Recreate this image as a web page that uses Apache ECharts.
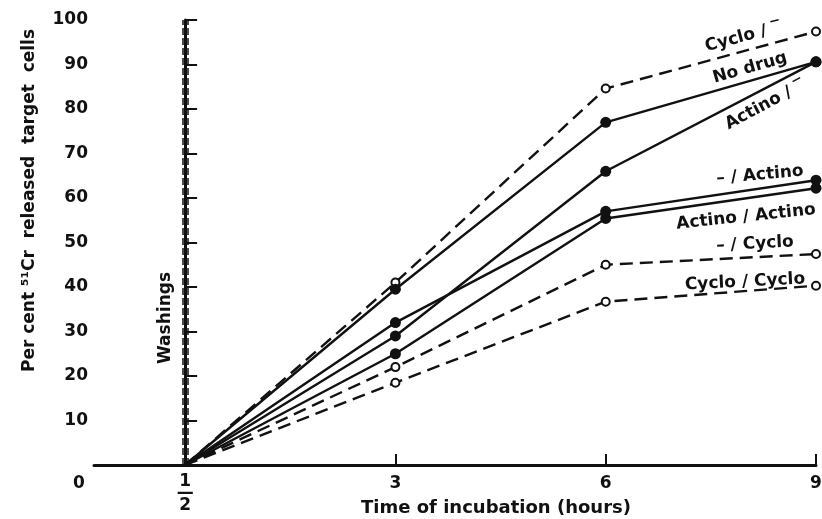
<!DOCTYPE html>
<html>
<head>
<meta charset="utf-8">
<script src="https://cdn.jsdelivr.net/npm/echarts@6/dist/echarts.min.js"></script>
<style>
  html, body { margin: 0; padding: 0; background: #fff; }
  #chart { width: 822px; height: 519px; }
</style>
</head>
<body>
<div id="chart"></div>
<script>
// ---- data ----
const hours = [0.5, 3, 6, 9]
const tickHours = [0, 0.5, 3, 6, 9]
const tickLabels = ['0', '1/2', '3', '6', '9']

const cycloNone = [0, 41, 84.6, 97.4]
const noDrug = [0, 39.5, 77, 90.6]
const actinoNone = [0, 29, 66, 90.6]
const noneActino = [0, 32, 57, 64]
const actinoActino = [0, 25, 55.4, 62.2]
const noneCyclo = [0, 22, 45, 47.4]
const cycloCyclo = [0, 18.5, 36.7, 40.3]

const washTime = 0.5

// the printed x axis is broken: 0 -> 1/2 is squeezed, 1/2 -> 3 is drawn as wide as 3 -> 6
function pos(t) {
  if (t <= 0.5) return -1.3 + t * 2.6
  if (t <= 3) return (t - 0.5) * 1.2
  return t
}

const font = 'DejaVu Sans'
const ink = '#111'

function lineSeries(name, values, dashed) {
  return {
    name: name,
    type: 'line',
    clip: false,
    symbol: 'circle',
    symbolSize: dashed ? 8 : 11,
    itemStyle: dashed
      ? { color: '#fff', borderColor: ink, borderWidth: 2 }
      : { color: ink, borderColor: ink, borderWidth: 0 },
    lineStyle: { color: ink, width: 2.4, type: dashed ? [13, 7] : 'solid' },
    emphasis: { disabled: true },
    z: dashed ? 3 : 4,
    data: values.map((v, i) => i === 0
      ? { value: [pos(hours[i]), v], symbol: 'none' }
      : [pos(hours[i]), v])
  }
}

function annot(text, x, y, deg) {
  return {
    type: 'text', x: x, y: y, rotation: deg * Math.PI / 180, z: 10,
    style: {
      text: text, fill: ink, font: 'bold 17px "' + font + '"',
      align: 'center', verticalAlign: 'middle'
    }
  }
}

let myChart = echarts.init(document.getElementById('chart'))
let option = {
  animation: false,
  backgroundColor: '#fff',
  grid: { left: 94, right: 6, top: 20, bottom: 54, containLabel: false, outerBoundsMode: 'none' },
  xAxis: {
    type: 'value',
    min: pos(0),
    max: pos(9),
    name: 'Time of incubation (hours)',
    nameLocation: 'middle',
    nameGap: 34,
    nameMoveOverlap: false,
    nameTextStyle: {
      color: ink, fontFamily: font, fontWeight: 'bold', fontSize: 18,
      padding: [0, 0, 0, 82]
    },
    axisLine: { lineStyle: { color: ink, width: 3 } },
    axisTick: {
      inside: true, length: 11, lineStyle: { color: ink, width: 2 },
      customValues: tickHours.filter(t => t >= 3).map(pos)
    },
    axisLabel: {
      customValues: tickHours.map(pos),
      margin: 10,
      color: ink, fontFamily: font, fontWeight: 'bold', fontSize: 17,
      formatter: function (v) {
        let i = tickHours.findIndex(t => Math.abs(pos(t) - v) < 1e-6)
        let s = i < 0 ? '' : tickLabels[i]
        if (s === '0') return '{z|0}'
        if (s === '1/2') return '{n|1}\n{b|—}\n{n|2}'
        return s
      },
      rich: {
        z: { padding: [0, 30, 0, 0] },
        n: { lineHeight: 14 },
        b: { lineHeight: 10 }
      }
    },
    splitLine: { show: false }
  },
  yAxis: {
    type: 'value',
    min: 0,
    max: 100,
    interval: 10,
    name: 'Per cent ⁵¹Cr  released  target  cells',
    nameLocation: 'middle',
    nameRotate: 90,
    nameGap: 56,
    nameTextStyle: {
      color: ink, fontFamily: font, fontWeight: 'bold', fontSize: 17,
      padding: [0, 0, 0, 84]
    },
    axisLine: { show: true, lineStyle: { color: ink, width: 3 } },
    axisTick: { inside: true, length: 12, lineStyle: { color: ink, width: 2 } },
    axisLabel: {
      margin: 6,
      color: ink, fontFamily: font, fontWeight: 'bold', fontSize: 17,
      formatter: v => (v === 0 ? '' : String(v))
    },
    splitLine: { show: false }
  },
  series: [
    lineSeries('Cyclo/−', cycloNone, true),
    lineSeries('No drug', noDrug, false),
    lineSeries('Actino/−', actinoNone, false),
    lineSeries('−/Actino', noneActino, false),
    lineSeries('Actino/Actino', actinoActino, false),
    lineSeries('−/Cyclo', noneCyclo, true),
    lineSeries('Cyclo/Cyclo', cycloCyclo, true),
    {
      // double dashed "Washings" line
      type: 'line',
      data: [],
      markLine: {
        silent: true,
        symbol: 'none',
        label: { show: false },
        lineStyle: { color: ink, width: 1.5, type: [7, 3] },
        data: [{ xAxis: pos(washTime) - 0.045 }, { xAxis: pos(washTime) + 0.045 }]
      }
    }
  ],
  graphic: [
    annot('Washings', 166, 318, 90),
    annot('Cyclo / ‾', 743, 37, 15),
    annot('No drug', 750, 68, 16),
    annot('Actino / ‾', 765, 105, 28),
    annot('– / Actino', 760, 175, 5),
    annot('Actino / Actino', 746, 217, 6),
    annot('– / Cyclo', 755, 244, 3),
    annot('Cyclo / Cyclo', 745, 282, 3)
  ]
}
myChart.setOption(option)
</script>
</body>
</html>
